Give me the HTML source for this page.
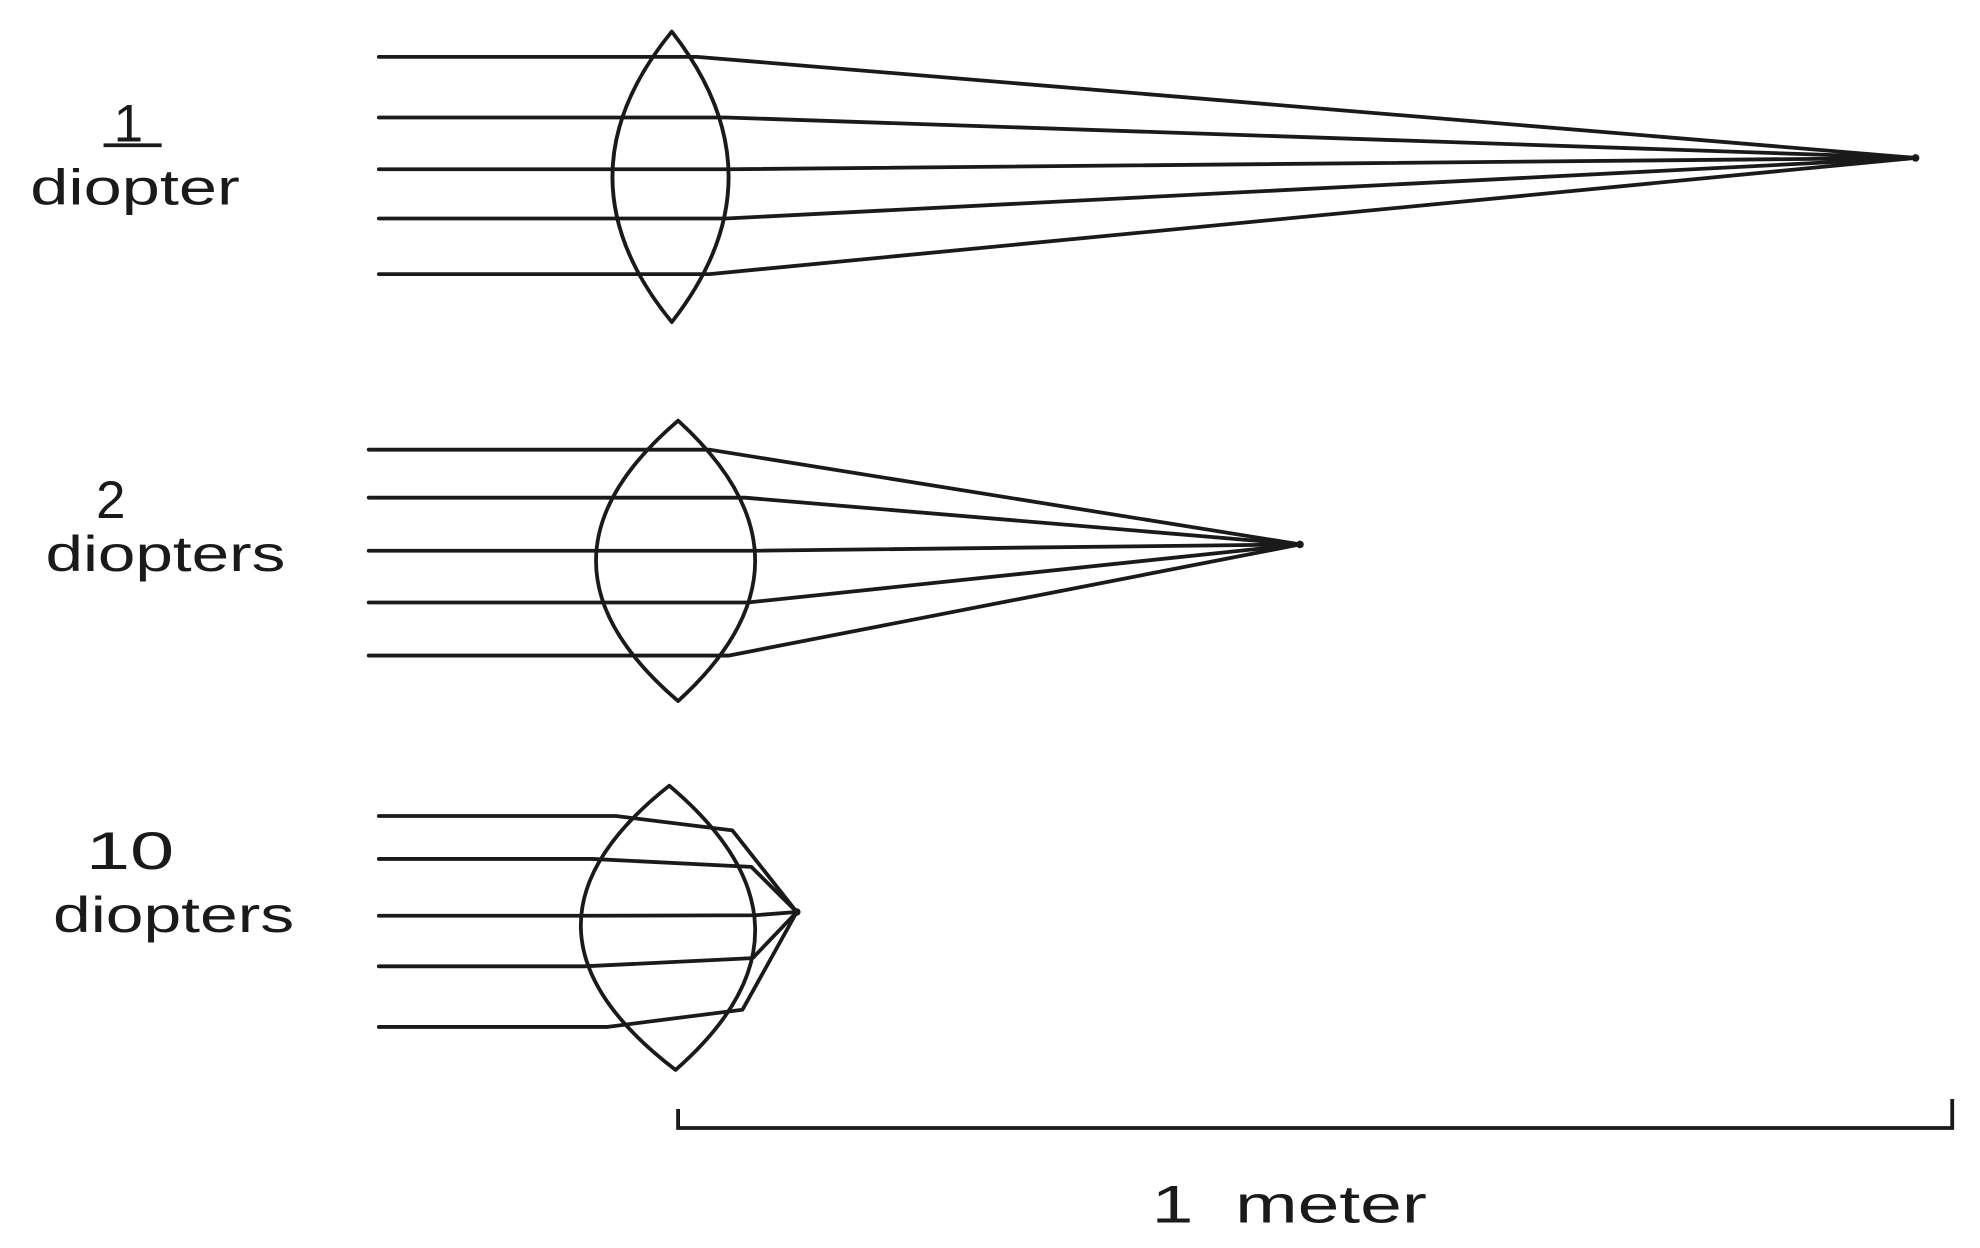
<!DOCTYPE html>
<html>
<head>
<meta charset="utf-8">
<style>
html,body{margin:0;padding:0;background:#fff;}
svg{display:block;}
text{font-family:"Liberation Sans",sans-serif;fill:#1a1a1a;}
</style>
</head>
<body>
<svg id="fig" width="1980" height="1248" viewBox="0 0 1568 988" preserveAspectRatio="none" xmlns="http://www.w3.org/2000/svg">
  <rect x="0" y="0" width="1568" height="988" fill="#ffffff"/>
  <g id="marks" stroke="#1a1a1a" stroke-width="3" fill="none" stroke-linecap="round" stroke-linejoin="round"></g>

  <text x="90" y="112" font-size="42">1</text>
  <line x1="82" y1="115" x2="128" y2="115" stroke="#1a1a1a" stroke-width="3"/>
  <text x="24" y="162" font-size="40" textLength="166" lengthAdjust="spacingAndGlyphs">diopter</text>

  <text x="76" y="410" font-size="42">2</text>
  <text x="36" y="452" font-size="40" textLength="190" lengthAdjust="spacingAndGlyphs">diopters</text>

  <text x="68" y="688" font-size="42" textLength="70" lengthAdjust="spacingAndGlyphs">10</text>
  <text x="42" y="738" font-size="40" textLength="191" lengthAdjust="spacingAndGlyphs">diopters</text>

  <path d="M537 878 L537 893 L1546 893 L1546 870" stroke="#1a1a1a" stroke-width="3" fill="none"/>
  <text x="912" y="968" font-size="42" textLength="218" lengthAdjust="spacingAndGlyphs">1&#160;&#160;meter</text>
</svg>
<script>
const diopters = [1, 2, 10];
const rayYs = [[45, 93, 134, 173, 217], [356, 394, 436, 477, 519], [646, 680, 725, 765, 813]];
const focalYs = [125, 431, 722];
const lensTops = [[532, 25], [537, 333], [530, 622]];
const lensBottoms = [[532, 255], [537, 555], [535, 847]];
const lensLeftX = [485, 472, 460];
const lensRightX = [577, 598, 598];
const exitXs = [[552, 575, 577, 575, 562], [562, 590, 597, 592, 577], [580, 595, 598, 596, 588]];
const rayStartX = [300, 292, 300];
const metersPx = 985;

const NS = 'http://www.w3.org/2000/svg';
const g = document.getElementById('marks');

function lensEntryX(i, y) {
  const top = lensTops[i][1], bot = lensBottoms[i][1];
  const mid = (top + bot) / 2, half = (bot - top) / 2;
  const cx = (lensTops[i][0] + lensBottoms[i][0]) / 2;
  const t = (y - mid) / half;
  return cx - (cx - lensLeftX[i]) * Math.sqrt(Math.max(0, 1 - t * t));
}

diopters.forEach((d, i) => {
  const cx = (lensTops[i][0] + lensBottoms[i][0]) / 2;
  const midY = (lensTops[i][1] + lensBottoms[i][1]) / 2;
  const fx = cx + metersPx / d;
  const fy = focalYs[i];

  const lens = document.createElementNS(NS, 'path');
  const [tx, ty] = lensTops[i], [bx, by] = lensBottoms[i];
  lens.setAttribute('d', `M${tx} ${ty} Q${2 * lensLeftX[i] - cx} ${midY} ${bx} ${by} Q${2 * lensRightX[i] - cx} ${midY} ${tx} ${ty} Z`);
  
  
  g.appendChild(lens);

  rayYs[i].forEach((y, k) => {
    const ex = exitXs[i][k];
    const inX = lensEntryX(i, y);
    const bend = d >= 10 ? (fy - y) * 0.15 : 0;
    const ey = y + bend;
    const ray = document.createElementNS(NS, 'path');
    ray.setAttribute('d', `M${rayStartX[i]} ${y} L${inX} ${y} L${ex} ${ey} L${fx} ${fy}`);
    
    
    g.appendChild(ray);
  });

  const f = document.createElementNS(NS, 'circle');
  f.setAttribute('cx', fx);
  f.setAttribute('cy', fy);
  f.setAttribute('r', 1.5);
  f.setAttribute('fill', '#1a1a1a');
  
  
  g.appendChild(f);
});
</script>
</body>
</html>
